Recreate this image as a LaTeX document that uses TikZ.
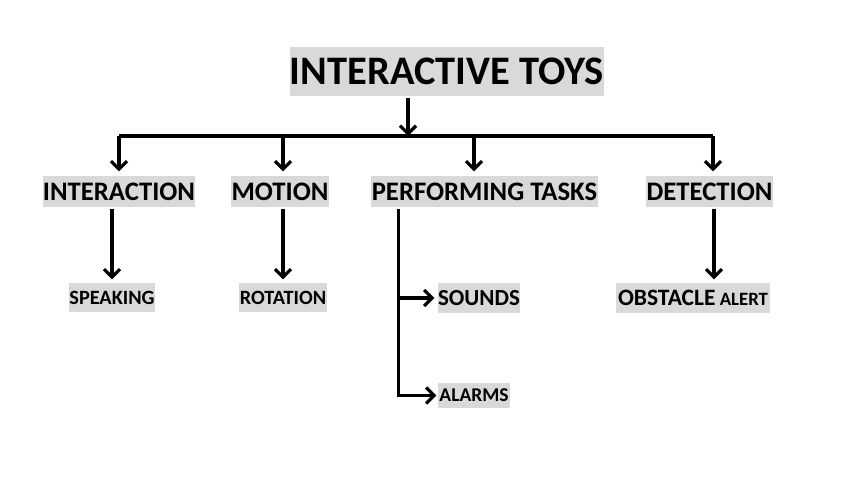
\documentclass[tikz,border=0pt]{standalone}
\usepackage{fontspec}
\setmainfont{Carlito}
\usetikzlibrary{arrows.meta}
\definecolor{boxgray}{RGB}{217,217,217}

\begin{document}
\begin{tikzpicture}[x=1pt, y=-1pt, line width=3.2pt,
	>={Straight Barb[length=8pt,width=16pt]},
	box/.style={fill=boxgray, inner sep=0pt, font=\bfseries},
	big/.style={box, minimum height=49pt, font=\bfseries\fontsize{40.5}{42}\selectfont},
	mid/.style={box, minimum height=31pt, font=\bfseries\fontsize{26.7}{28}\selectfont},
	small/.style={box, minimum height=29pt, font=\bfseries\fontsize{20.3}{22}\selectfont}]
	\useasboundingbox (0,0) rectangle (848,485);

	% Define nodes
	\node (toys) [big, minimum width=314pt] at (447,71.5) {INTERACTIVE TOYS};

	\node (inter) [mid, minimum width=152pt] at (119,191.5) {INTERACTION};
	\node (motion) [mid, minimum width=98pt] at (280,191.5) {MOTION};
	\node (perf) [mid, minimum width=227pt] at (484.5,191.5) {PERFORMING TASKS};
	\node (detect) [mid, minimum width=127pt] at (709.5,191.5) {DETECTION};

	\node (speak) [small, minimum width=84pt] at (112,297.5) {SPEAKING};
	\node (rot) [small, minimum width=88pt] at (283,297.5) {ROTATION};
	\node (sounds) [small, minimum width=82pt, minimum height=30pt,
		font=\bfseries\fontsize{23}{25}\selectfont] at (479,298) {SOUNDS};
	\node (obst) [small, minimum width=154pt, minimum height=30pt,
		font=\bfseries\fontsize{18.8}{20}\selectfont] at (693,298)
		{{\fontsize{23.5}{25}\selectfont OBSTACLE} ALERT};
	\node (alarms) [small, minimum width=72pt, minimum height=25pt,
		font=\bfseries\fontsize{19.5}{21}\selectfont] at (474,395.5) {ALARMS};

	% Bus under the title
	\coordinate (join) at (408,136);
	\coordinate (b1) at (119,136);
	\coordinate (b2) at (283,136);
	\coordinate (b3) at (474,136);
	\coordinate (b4) at (713,136);
	\coordinate (ptop) at ([xshift=29pt]perf.south west);

	% Draw edges
	\draw[->] (toys.south -| join) -- (join);
	\draw (b1) -- (b4);
	\draw[->, shorten >=3pt] (b1) -- (b1 |- inter.north);
	\draw[->, shorten >=3pt] (b2) -- (b2 |- motion.north);
	\draw[->, shorten >=3pt] (b3) -- (b3 |- perf.north);
	\draw[->, shorten >=3pt] (b4) -- (b4 |- detect.north);

	\draw[->, shorten >=2pt] (inter.south -| speak.north) -- (speak.north);
	\draw[->, shorten >=2pt] (motion.south -| rot.north) -- (rot.north);
	\draw[->, shorten >=2pt] ([xshift=4.5pt]detect.south) -- ([xshift=4.5pt]detect.south |- obst.north);

	\draw[->] (ptop) |- (alarms.west);
	\draw[->] (ptop |- sounds.west) -- ([xshift=-2pt]sounds.west);
\end{tikzpicture}
\end{document}
